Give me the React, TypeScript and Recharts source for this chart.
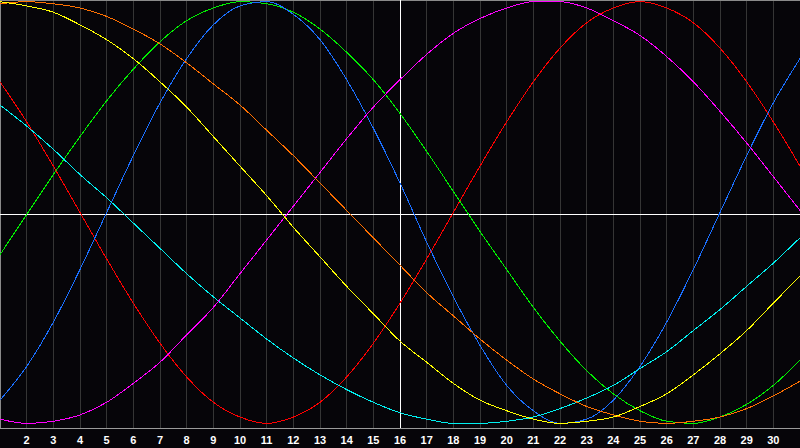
import { LineChart, Line, XAxis, YAxis, CartesianGrid, ReferenceLine } from "recharts";

// day of month (x) and the seven rhythm curves
const days = [
  1, 2, 3, 4, 5, 6, 7, 8, 9, 10, 11, 12, 13, 14, 15, 16,
  17, 18, 19, 20, 21, 22, 23, 24, 25, 26, 27, 28, 29, 30, 31,
];
const tickDays = [
  2, 3, 4, 5, 6, 7, 8, 9, 10, 11, 12, 13, 14, 15, 16,
  17, 18, 19, 20, 21, 22, 23, 24, 25, 26, 27, 28, 29, 30,
];

const emotional = [
  62, 43, 22, 0, -22, -43, -62, -78, -90, -97, -100, -97, -90, -78, -62, -43,
  -22, 0, 22, 43, 62, 78, 90, 97, 100, 97, 90, 78, 62, 43, 22,
];
const intellectual = [
  -20, -1, 18, 36, 53, 68, 81, 91, 97, 100, 99, 95, 87, 76, 63, 47,
  29, 10, -9, -27, -45, -61, -75, -86, -94, -99, -100, -97, -91, -82, -70,
];
const physical = [
  -89, -73, -52, -27, 0, 27, 52, 73, 89, 98, 100, 94, 82, 63, 40, 14,
  -14, -40, -63, -82, -94, -100, -98, -89, -73, -52, -27, 0, 27, 52, 73,
];
const intuitive = [
  -98, -100, -99, -96, -90, -81, -71, -58, -45, -29, -13, 3, 19, 35, 50, 63,
  75, 85, 92, 97, 100, 100, 97, 91, 84, 74, 62, 48, 33, 17, 1,
];
const aesthetic = [
  100, 98, 95, 89, 82, 73, 62, 50, 36, 22, 8, -7, -21, -35, -48, -61,
  -71, -81, -89, -94, -98, -100, -99, -97, -92, -86, -77, -67, -56, -43, -30,
];
const awareness = [
  99, 100, 99, 97, 93, 87, 80, 71, 61, 51, 39, 27, 14, 1, -12, -25,
  -38, -49, -60, -70, -79, -86, -92, -96, -99, -100, -99, -97, -93, -87, -80,
];
const spiritual = [
  51, 41, 30, 18, 7, -5, -17, -29, -40, -50, -60, -69, -77, -84, -90, -95,
  -98, -100, -100, -99, -97, -93, -88, -82, -74, -66, -56, -46, -35, -24, -12,
];

const series = [
  { key: "emotional", color: "#ff0000" },
  { key: "intellectual", color: "#00f000" },
  { key: "physical", color: "#1a6fff" },
  { key: "spiritual", color: "#00f0f0" },
  { key: "intuitive", color: "#ff00ff" },
  { key: "awareness", color: "#ff7000" },
  { key: "aesthetic", color: "#ffff00" },
];

const data = days.map((day, i) => ({
  day,
  emotional: emotional[i],
  intellectual: intellectual[i],
  physical: physical[i],
  intuitive: intuitive[i],
  aesthetic: aesthetic[i],
  awareness: awareness[i],
  spiritual: spiritual[i],
}));

export default function App() {
  return (
    <div
      style={{
        position: "absolute",
        left: 0,
        top: 0,
        width: 800,
        height: 448,
        background: "#060509",
      }}
    >
      <LineChart
        width={800}
        height={448}
        data={data}
        margin={{ top: 0, right: 0, left: 0, bottom: 0 }}
        style={{ shapeRendering: "crispEdges" }}
      >
        <CartesianGrid horizontal={false} stroke="#353535" />
        <XAxis
          dataKey="day"
          type="number"
          domain={[1, 31]}
          ticks={tickDays}
          interval={0}
          height={20}
          tickLine={false}
          tickSize={6}
          axisLine={{ stroke: "#9a9a9a" }}
          tick={{ fill: "#ffffff", fontSize: 11, fontWeight: "bold", fontFamily: "Liberation Sans" }}
        />
        <YAxis type="number" domain={[-102.2, 100.8]} allowDataOverflow hide />
        <ReferenceLine x={1} stroke="#8a8a8a" strokeWidth={2} />
        <ReferenceLine y={100.8} stroke="#8a8a8a" strokeWidth={2} />
        <ReferenceLine y={-0.7} stroke="#ffffff" />
        <ReferenceLine x={16} stroke="#ffffff" />
        {series.map((s) => (
          <Line
            key={s.key}
            dataKey={s.key}
            type="monotone"
            stroke={s.color}
            strokeWidth={1}
            dot={false}
            activeDot={false}
            isAnimationActive={false}
          />
        ))}
      </LineChart>
    </div>
  );
}
